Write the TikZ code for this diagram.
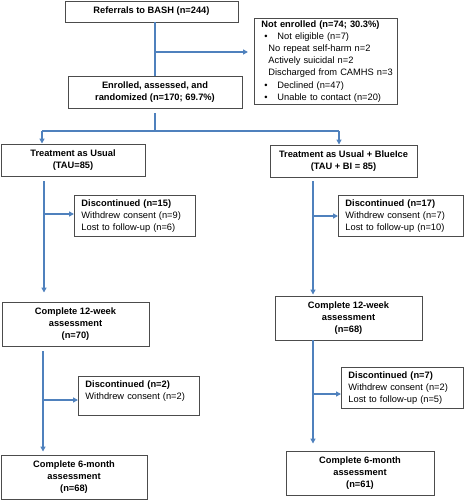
\documentclass[tikz,border=0pt]{standalone}
\usepackage{fontspec}
\setmainfont{Liberation Sans}
\usetikzlibrary{arrows.meta}
\definecolor{flowblue}{HTML}{4F81BD}

\begin{document}
\begin{tikzpicture}[x=1pt,y=-1pt,
  font=\fontsize{9.3}{12.2}\selectfont,
  box/.style={rectangle,draw=black!70,line width=0.9pt,align=center,inner sep=0pt},
  note/.style={rectangle,draw=black!70,line width=0.9pt,align=left,anchor=north west,inner xsep=7pt,inner ysep=4pt},
  link/.style={flowblue,line width=1.6pt},
  arr/.style={link,-{Triangle[length=5pt,width=5pt]}}]
\useasboundingbox (0,0) rectangle (464,500);

\node[box,minimum width=173pt,minimum height=21pt] (ref) at (151.5,11.5) {\textbf{Referrals to BASH (n=244)}};
\node[box,minimum width=174pt,minimum height=32pt] (enr) at (155,92) {\textbf{Enrolled, assessed, and}\\\textbf{randomized (n=170; 69.7\%)}};
\node[note,text width=140pt,inner xsep=1.5pt,inner ysep=2pt] (noten) at (254,18) {\hspace*{5.5pt}\textbf{Not enrolled (n=74; 30.3\%)}\\
  \hspace*{8.5pt}\makebox[13pt][l]{\textbullet}Not eligible (n=7)\\
  \hspace*{12.5pt}No repeat self-harm n=2\\
  \hspace*{12.5pt}Actively suicidal n=2\\
  \hspace*{12.5pt}\mbox{Discharged from CAMHS n=3}\\
  \hspace*{8.5pt}\makebox[13pt][l]{\textbullet}Declined (n=47)\\
  \hspace*{8.5pt}\makebox[13pt][l]{\textbullet}Unable to contact (n=20)};

\node[box,minimum width=144pt,minimum height=32pt] (tau) at (73,160) {\textbf{Treatment as Usual}\\\textbf{(TAU=85)}};
\node[box,minimum width=147pt,minimum height=32pt] (taubi) at (343.5,161) {\textbf{Treatment as Usual + BlueIce}\\\textbf{(TAU + BI = 85)}};

\node[note,text width=107pt] (d15) at (74,195) {\textbf{Discontinued (n=15)}\\Withdrew consent (n=9)\\Lost to follow-up (n=6)};
\node[note,text width=111pt] (d17) at (338,195) {\textbf{Discontinued (n=17)}\\Withdrew consent (n=7)\\Lost to follow-up (n=10)};

\node[box,minimum width=147pt,minimum height=44pt] (c12L) at (75.5,324) {\textbf{Complete 12-week}\\\textbf{assessment}\\\textbf{(n=70)}};
\node[box,minimum width=147pt,minimum height=44pt] (c12R) at (348.5,318) {\textbf{Complete 12-week}\\\textbf{assessment}\\\textbf{(n=68)}};

\node[note,text width=107pt] (d2) at (78,376) {\textbf{Discontinued (n=2)}\\Withdrew consent (n=2)\\~};
\node[note,text width=108pt] (d7) at (341,367) {\textbf{Discontinued (n=7)}\\Withdrew consent (n=2)\\Lost to follow-up (n=5)};

\node[box,minimum width=146pt,minimum height=44pt] (c6L) at (74,477) {\textbf{Complete 6-month}\\\textbf{assessment}\\\textbf{(n=68)}};
\node[box,minimum width=148pt,minimum height=44pt] (c6R) at (360,473) {\textbf{Complete 6-month}\\\textbf{assessment}\\\textbf{(n=61)}};

\coordinate (t0) at (155,52);
\draw[link] (ref.south -| t0) -- (enr.north -| t0);
\draw[arr] (t0) -- ([xshift=-6pt]noten.west |- t0);

\coordinate (t1) at (155,131);
\coordinate (aL) at (42,131);
\coordinate (aR) at (339,131);
\draw[link] ([yshift=-5pt]enr.south -| t1) -- (t1);
\draw[link] (aL) -- (aR);
\draw[arr] (aL) -- (aL |- tau.north);
\draw[arr] (aR) -- (aR |- taubi.north);

\coordinate (cL1) at (44,214);
\draw[arr] ([yshift=-5pt]tau.south -| cL1) -- ([yshift=9pt]c12L.north -| cL1);
\draw[arr] (cL1) -- (d15.west |- cL1);
\coordinate (cR1) at (313,216);
\draw[arr] ([yshift=-4pt]taubi.south -| cR1) -- ([yshift=1pt]c12R.north -| cR1);
\draw[arr] (cR1) -- (d17.west |- cR1);

\coordinate (cL2) at (43,400);
\draw[arr] ([yshift=-5pt]c12L.south -| cL2) -- ([yshift=3pt]c6L.north -| cL2);
\draw[arr] (cL2) -- (d2.west |- cL2);
\coordinate (cR2) at (313,394);
\draw[arr] (c12R.south -| cR2) -- ([yshift=7pt]c6R.north -| cR2);
\draw[arr] (cR2) -- (d7.west |- cR2);
\end{tikzpicture}
\end{document}
